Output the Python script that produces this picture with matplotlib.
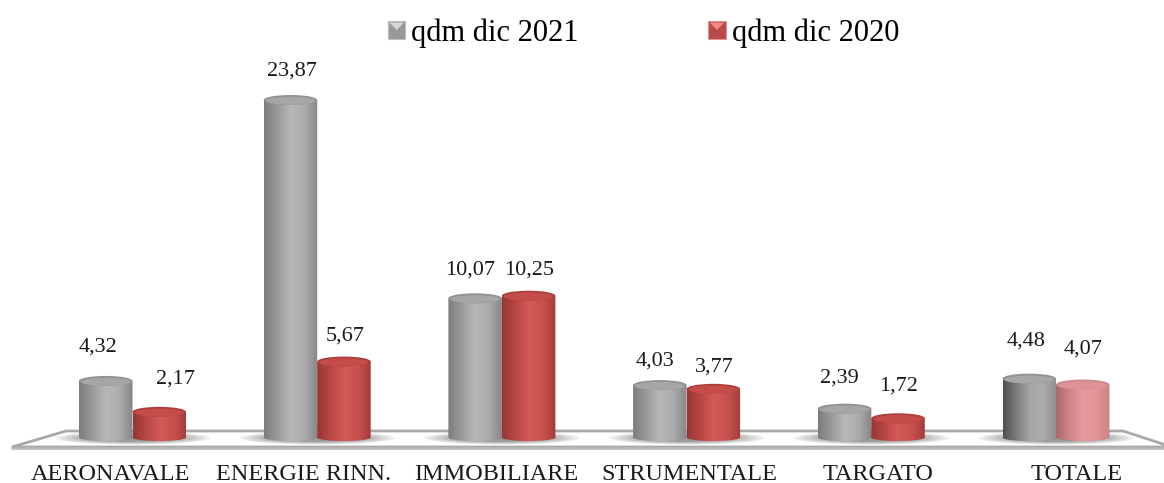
import matplotlib
matplotlib.use('Agg')
import matplotlib.pyplot as plt
import numpy as np
from matplotlib.colors import LinearSegmentedColormap
from matplotlib.legend_handler import HandlerBase
from matplotlib.patches import Ellipse, Patch, PathPatch, Polygon, Rectangle
from matplotlib.path import Path

plt.rcParams['font.family'] = ['Liberation Serif', 'DejaVu Serif']

# Data
categories = ['AERONAVALE', 'ENERGIE RINN.', 'IMMOBILIARE', 'STRUMENTALE', 'TARGATO', 'TOTALE']
qdm_2021 = [4.32, 23.87, 10.07, 4.03, 2.39, 4.48]
qdm_2020 = [2.17, 5.67, 10.25, 3.77, 1.72, 4.07]
labels_2021 = ['4,32', '23,87', '10,07', '4,03', '2,39', '4,48']
labels_2020 = ['2,17', '5,67', '10,25', '3,77', '1,72', '4,07']

# Label offsets from the bar top, in pixels (they were placed by hand in the original)
offs_2021 = [(-8, 34), (1, 29), (-5, 28), (-5, 24), (-5, 31), (-3, 38)]
offs_2020 = [(16, 33), (1, 25), (0, 26), (1, 22), (0, 32), (0, 35)]
offs_cat = [-22, -14, -6, 3, 7, 21]

# Pixel layout of the chart
W, H = 1164, 483
GROUP_PX = 184.7
X0_PX = 132.5
Y0_PX = 443
UNIT_PX = 14.37


def xd(px):
    return (px - X0_PX) / GROUP_PX


def yd(py):
    return (Y0_PX - py) / UNIT_PX


bar_w = 53.5 / GROUP_PX
cap_h = 5 / UNIT_PX
bottom_h = 3.5 / UNIT_PX
base = yd(437.5)

gray = LinearSegmentedColormap.from_list('g', ['#7c7c7c', '#9a9a9a', '#b8b8b8', '#acacac', '#868686'])
gray_dark = LinearSegmentedColormap.from_list('gd', ['#4e4e4e', '#7d7d7d', '#a6a6a6', '#acacac', '#8e8e8e'])
red = LinearSegmentedColormap.from_list('r', ['#963634', '#b84744', '#d25a57', '#c9524f', '#a33c3a'])
pink = LinearSegmentedColormap.from_list('p', ['#a96a6b', '#cf8487', '#e79a9d', '#e39497', '#c98688'])


def cylinder(ax, x, val, cmap, cap_col, rim_col):
    # body with a rounded bottom, filled by a horizontal gradient
    t = np.linspace(np.pi, 2 * np.pi, 40)
    low = np.column_stack([x + bar_w / 2 * np.cos(t), base + bottom_h * np.sin(t)])
    verts = np.vstack([low, [[x + bar_w / 2, val]], [[x - bar_w / 2, val]], low[:1]])
    clip = PathPatch(Path(verts), transform=ax.transData, fc='none', ec='none')
    ax.add_patch(clip)
    grad = np.linspace(0, 1, 256).reshape(1, -1)
    im = ax.imshow(grad, cmap=cmap, aspect='auto', zorder=4,
                   extent=[x - bar_w / 2, x + bar_w / 2, base - bottom_h, val])
    im.set_clip_path(clip)
    # top of the cylinder
    ax.add_patch(Ellipse((x, val), bar_w, 2 * cap_h, fc=rim_col, ec='none', zorder=5))
    ax.add_patch(Ellipse((x, val - 0.06), bar_w * 0.92, 1.6 * cap_h, fc=cap_col, ec='none', zorder=5))


class HandlerBox(HandlerBase):
    def __init__(self, light):
        super().__init__()
        self.light = light

    def create_artists(self, legend, orig, xd_, yd_, width, height, fontsize, trans):
        side = height
        x0 = width - side
        box = Rectangle((x0, -yd_), side, side, fc=orig.get_facecolor(), ec=orig.get_edgecolor(),
                        lw=0.8, transform=trans)
        tri = Polygon([(x0 + 1, side - yd_ - 1), (x0 + side - 1, side - yd_ - 1),
                       (x0 + side / 2, side / 2 - yd_)], fc=self.light, ec='none', transform=trans)
        return [box, tri]


fig = plt.figure(figsize=(W / 100, H / 100), dpi=100)
ax = fig.add_axes([0, 0, 1, 1])
ax.axis('off')

# floor of the 3D plot
ax.add_patch(Polygon([(xd(12), yd(447)), (xd(66), yd(431)), (xd(1123), yd(431)), (xd(1172), yd(447))],
                     closed=True, fc='white', ec='#a9a9a9', lw=2.0, zorder=1))
ax.plot([xd(12), xd(1164)], [yd(447.5), yd(447.5)], color='#b8b8b8', lw=1.8, zorder=2)

# soft shadow around each group
for i in range(len(categories)):
    for k in np.linspace(1.0, 0.5, 8):
        ax.add_patch(Ellipse((i, yd(438)), 2.9 * bar_w * k, 13 / UNIT_PX * k, fc='#444444',
                             ec='none', alpha=0.09, zorder=3))

n = len(categories)
for i in range(n):
    last = i == n - 1
    cylinder(ax, i - bar_w / 2, qdm_2021[i], gray_dark if last else gray, '#a6a6a6', '#929292')
    cylinder(ax, i + bar_w / 2, qdm_2020[i], pink if last else red,
             '#dd9396' if last else '#c44d4a', '#cc8a8d' if last else '#ad403e')
    ax.annotate(labels_2021[i], (i - bar_w / 2, qdm_2021[i]), xytext=offs_2021[i], textcoords='offset pixels',
                ha='center', va='center', fontsize=16, color='#1a1a1a', zorder=6)
    ax.annotate(labels_2020[i], (i + bar_w / 2, qdm_2020[i]), xytext=offs_2020[i], textcoords='offset pixels',
                ha='center', va='center', fontsize=16, color='#1a1a1a', zorder=6)
    ax.annotate(categories[i], (i, yd(474)), xytext=(offs_cat[i], 0), textcoords='offset pixels',
                ha='center', va='center', fontsize=17.5, color='#1a1a1a', annotation_clip=False)

ax.set_xlim(xd(0), xd(W))
ax.set_ylim(yd(H), yd(0))

h1 = Patch(fc='#999999', ec='#bdbdbd', label='qdm dic 2021')
h2 = Patch(fc='#b94a48', ec='#d99694', label='qdm dic 2020')
ax.legend(handles=[h1, h2], ncols=2, frameon=False, fontsize=22, loc='center', bbox_to_anchor=(640 / W, 1 - 33 / H),
          columnspacing=4.0, handletextpad=0.2, handlelength=0.8, handleheight=0.5, borderpad=0,
          handler_map={h1: HandlerBox('#d8d8d8'), h2: HandlerBox('#f08a88')})

fig.savefig('out.png', dpi=100)
plt.close()
